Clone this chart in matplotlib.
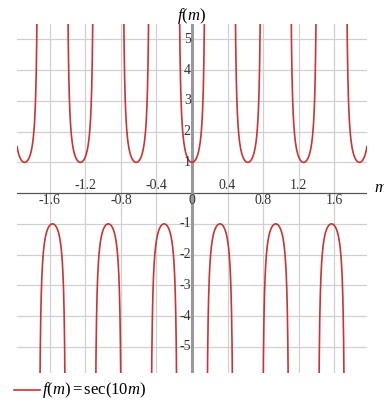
import numpy as np
import matplotlib.pyplot as plt

# function plot of f(m) = sec(10m)
x_min, x_max = -1.97, 1.97
y_min, y_max = -5.86, 5.5
x_ticks_below = [-1.6, -0.8, 0, 0.8, 1.6]
x_ticks_above = [-1.2, -0.4, 0.4, 1.2]
y_ticks = [-5, -4, -3, -2, -1, 1, 2, 3, 4, 5]
x_grid = [-1.6, -1.2, -0.8, -0.4, 0.4, 0.8, 1.2, 1.6]

plt.rcParams['font.family'] = ['Liberation Serif', 'DejaVu Serif']
plt.rcParams['mathtext.fontset'] = 'custom'
plt.rcParams['mathtext.rm'] = 'Liberation Serif'
plt.rcParams['mathtext.it'] = 'Liberation Serif:italic'

m = np.linspace(x_min, x_max, 20001)
f = 1 / np.cos(10 * m)
f[np.abs(f) > 12] = np.nan

fig = plt.figure(figsize=(3.84, 4.09), dpi=100)
ax = fig.add_axes([0.0443, 0.0873, 0.9114, 0.854])
ax.set_xlim(x_min, x_max)
ax.set_ylim(y_min, y_max)
for s in ax.spines.values():
    s.set_visible(False)
ax.set_xticks([])
ax.set_yticks([])

for gx in x_grid:
    ax.axvline(gx, color='#d0d0d0', lw=0.9, zorder=0)
for gy in y_ticks:
    ax.axhline(gy, color='#d0d0d0', lw=0.9, zorder=0)

ax.axhline(0, color='#555555', lw=0.9, zorder=1)
ax.axvline(0, color='#999999', lw=2.2, zorder=1)

ax.plot(m, f, color='#cc3333', lw=1.2, zorder=3)

tk = dict(fontsize=10, color='#333333')
for v in x_ticks_below:
    ax.text(v, -0.03, f'{v:g}', ha='center', va='top', **tk)
for v in x_ticks_above:
    ax.text(v, 0.03, f'{v:g}', ha='center', va='bottom', **tk)
for v in y_ticks:
    ax.text(-0.015, v, f'{v:g}', ha='right', va='center', **tk)

fig.text(0.5, 0.962, r'$f(m)$', ha='center', va='center', fontsize=12)
fig.text(0.99, 0.54, r'$m$', ha='center', va='center', fontsize=12)

fig.add_artist(plt.Line2D([0.036, 0.104], [0.046, 0.046], color='#cc3333', lw=1.2))
fig.text(0.11, 0.046, r'$f(m) = \mathrm{sec}(10m)$', ha='left', va='center', fontsize=12)

fig.savefig('out.png', dpi=100)
